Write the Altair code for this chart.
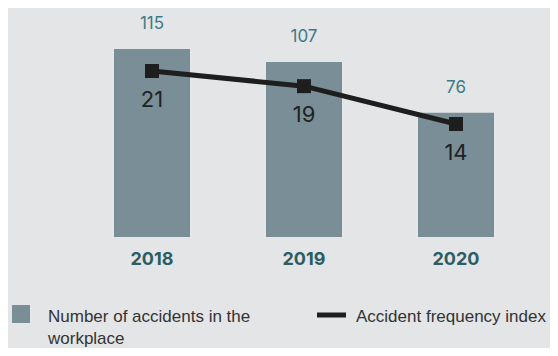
import altair as alt
import pandas as pd

years = ["2018", "2019", "2020"]
accidents = [115, 107, 76]
frequency = [21, 19, 14]

legend_bar_label = ["Number of accidents in the", "workplace"]
legend_line_label = "Accident frequency index"

df = pd.DataFrame({"year": years, "accidents": accidents, "freq": frequency})

FONT = "Inter"
LEG_FONT = "Liberation Sans"
BAR_COLOR = "#798e96"
LINE_COLOR = "#1e1e1e"

x = alt.X(
    "year:N",
    sort=years,
    scale=alt.Scale(paddingInner=0.5, paddingOuter=0.25),
    axis=alt.Axis(
        title=None, labelAngle=0, domain=False, ticks=False, grid=False,
        labelFont=FONT, labelFontSize=18, labelFontWeight="bold",
        labelColor="#2c5d64", labelPadding=13,
    ),
)
y_bar = alt.Y("accidents:Q", scale=alt.Scale(domain=[0, 138.8], nice=False), axis=None)
y_line = alt.Y("freq:Q", scale=alt.Scale(domain=[-0.93, 29.06], nice=False, zero=False), axis=None)

base = alt.Chart(df)

bars = base.mark_bar(color=BAR_COLOR).encode(x=x, y=y_bar)
bar_labels = base.mark_text(
    dy=-25, baseline="middle", font=FONT, fontSize=17, color="#3d7a84"
).encode(x=x, y=y_bar, text="accidents:Q")

line = base.mark_line(color=LINE_COLOR, strokeWidth=5).encode(x=x, y=y_line)
points = base.mark_square(size=196, color=LINE_COLOR, opacity=1).encode(x=x, y=y_line)
line_labels = base.mark_text(
    dy=29, baseline="middle", font=FONT, fontSize=22, color="#222222"
).encode(x=x, y=y_line, text="freq:Q")

leg = alt.Chart(pd.DataFrame({"k": [0]}))
leg_square = leg.mark_square(size=324, color=BAR_COLOR, opacity=1).encode(
    x=alt.value(-55), y=alt.value(304)
)
leg_text1 = leg.mark_text(
    align="left", baseline="alphabetic", font=LEG_FONT, fontSize=17,
    color="#333333", lineHeight=22,
).encode(x=alt.value(-28), y=alt.value(312), text=alt.value(legend_bar_label))
leg_rule = leg.mark_rule(color=LINE_COLOR, strokeWidth=5).encode(
    x=alt.value(241), x2=alt.value(270), y=alt.value(305)
)
leg_text2 = leg.mark_text(
    align="left", baseline="alphabetic", font=LEG_FONT, fontSize=17, color="#333333"
).encode(x=alt.value(280), y=alt.value(312), text=alt.value(legend_line_label))

chart = (
    alt.layer(bars, bar_labels, line, points, line_labels,
              leg_square, leg_text1, leg_rule, leg_text2)
    .resolve_scale(y="independent")
    .properties(
        width=456, height=227,
        autosize=alt.AutoSizeParams(type="none"),
        padding={"left": 68, "top": 2, "right": 18, "bottom": 111},
        background="#e4e5e7",
    )
    .configure_view(stroke=None)
)

chart.save("out.html", embed_options={"renderer": "svg", "actions": False})
